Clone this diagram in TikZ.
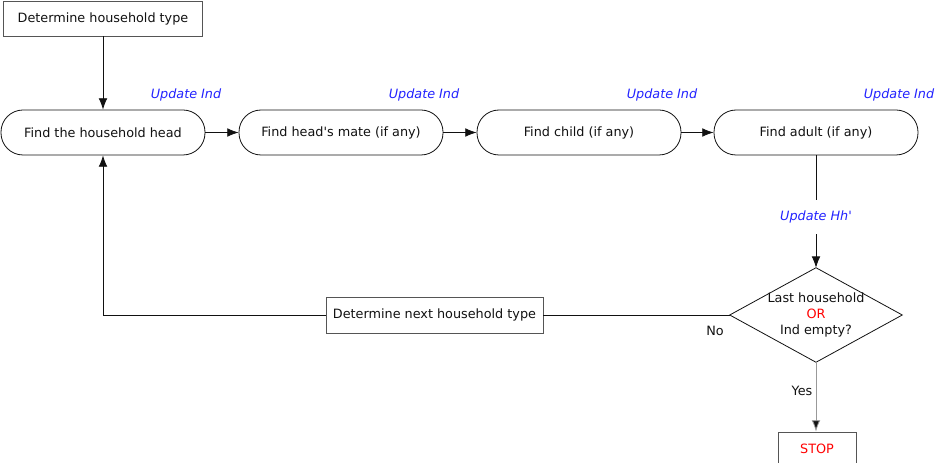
\documentclass[tikz,border=0pt]{standalone}
\usepackage{fontspec}
\setmainfont{DejaVu Sans}
\usetikzlibrary{arrows.meta}
\definecolor{boxgray}{HTML}{555555}
\definecolor{txt}{HTML}{111111}
\definecolor{updblue}{HTML}{2222FF}
\definecolor{yesgray}{HTML}{999999}
\begin{document}
\begin{tikzpicture}[x=0.75pt,y=-0.75pt,
  every node/.style={font=\fontsize{9.6}{11.5}\selectfont, text=txt},
  procbox/.style={draw=boxgray, line width=0.6pt, rectangle, inner sep=0pt},
  pill/.style={draw=txt, line width=0.6pt, rectangle, rounded corners=16.5pt,
     minimum width=153pt, minimum height=33.75pt, inner sep=0pt},
  updlbl/.style={text=updblue, font=\fontsize{9.6}{11.5}\selectfont\itshape, inner sep=0pt},
  plainlbl/.style={inner sep=0pt},
  conn/.style={draw=txt, line width=0.6pt},
  arr/.style={conn, -{Latex[length=8.5pt,width=6.5pt]}}
]
\useasboundingbox (0,0) rectangle (936,463);

\node[procbox, minimum width=149.25pt, minimum height=26.25pt] (start) at (103,18.5) {Determine household type};

\node[pill] (head)  at (103,132.5) {Find the household head};
\node[pill] (mate)  at (341,132.5) {Find head\textquotesingle s mate (if any)};
\node[pill] (child) at (579,132.5) {Find child (if any)};
\node[pill] (adult) at (816,132.5) {Find adult (if any)};

\node[updlbl] (u1) at (186,95) {Update Ind};
\node[updlbl] (u2) at (424,95) {Update Ind};
\node[updlbl] (u3) at (662,95) {Update Ind};
\node[updlbl] (u4) at (899,95) {Update Ind};

\node[updlbl, minimum height=25.5pt] (uhh) at (816,217) {Update Hh\textquotesingle};

\node[rectangle, inner sep=0pt, minimum width=129pt, minimum height=70.5pt, align=center,
      font=\fontsize{9.6}{12}\selectfont] (dec) at (816,315)
  {Last household\\\textcolor{red}{OR}\\Ind empty?};
\draw[conn] (dec.north) -- (dec.east) -- (dec.south) -- (dec.west) -- cycle;

\node[procbox, minimum width=162.75pt, minimum height=27pt] (next) at (434.5,315) {Determine next household type};

\node[procbox, minimum width=58.5pt, minimum height=25.5pt, text=red] (stop) at (817,449) {STOP};

\node[plainlbl] (no) at (715,331) {No};
\node[plainlbl] (yes) at (802,391) {Yes};

\coordinate (corner) at (103,315);

\draw[arr] (start.south) -- (head.north);
\draw[arr] (head.east) -- (mate.west);
\draw[arr] (mate.east) -- (child.west);
\draw[arr] (child.east) -- (adult.west);
\draw[conn] (adult.south) -- (uhh.north);
\draw[arr] (uhh.south) -- (dec.north);
\draw[conn] (dec.west) -- (next.east);
\draw[arr] (next.west) -- (corner) -- (head.south);
\draw[conn, draw=yesgray, -{Latex[length=8.5pt,width=6.5pt,fill=txt]}] (dec.south) -- (dec.south |- stop.north);
\end{tikzpicture}
\end{document}
